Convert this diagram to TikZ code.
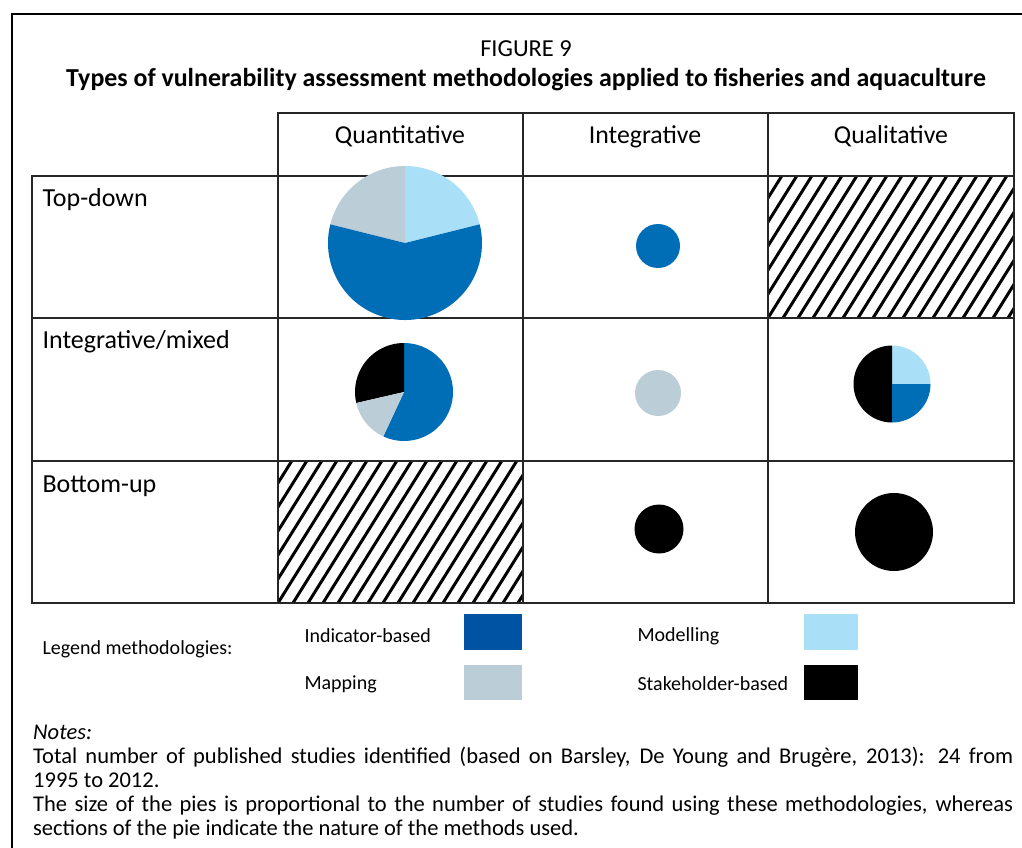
\documentclass[tikz,border=0pt]{standalone}
\usepackage{fontspec}
\setmainfont{Carlito}
\usepackage{xcolor}
\usetikzlibrary{calc}
\definecolor{indicatorblue}{HTML}{006DB7}
\definecolor{indicatorkey}{HTML}{0053A3}
\definecolor{modelblue}{HTML}{A9DFF7}
\definecolor{mapgrey}{HTML}{BBCDD7}
\tikzset{
  grid/.style={line width=1.3pt,black!85},
  hatchline/.style={line width=3pt},
  indicator/.style={fill=indicatorblue},
  model/.style={fill=modelblue},
  mapping/.style={fill=mapgrey},
  stakeholder/.style={fill=black},
  headlabel/.style={anchor=base,font=\fontsize{25.8}{30}\selectfont},
  rowlabel/.style={anchor=west,font=\fontsize{26}{30}\selectfont},
  keylabel/.style={anchor=west,font=\fontsize{20}{24}\selectfont},
}

\begin{document}
\begin{tikzpicture}[x=1pt,y=1pt]
  \useasboundingbox (0,0) rectangle (1022,-848);
  \fill[white] (0,0) rectangle (1022,-848);
  \draw[line width=1.4pt] (12,-848) -- (12,-14) -- (1022,-14);

  % caption
  \node (fig) at (526,-49) {\fontsize{24.4}{28}\selectfont FIGURE 9};
  \node (title) at (526,-80) {\fontsize{25.9}{30}\selectfont\bfseries Types of vulnerability assessment methodologies applied to fisheries and aquaculture};

  % hatched cells
  \coordinate (qlA) at (768,-318);
  \coordinate (qlB) at (1014,-176);
  \coordinate (qnA) at (278,-603);
  \coordinate (qnB) at (523,-461);
  \begin{scope}
    \clip (qlA) rectangle (qlB);
    \foreach \i in {-7,...,18}
      \draw[hatchline] ($(qlA)+(\i*15,0)$) -- ++(58:170);
  \end{scope}
  \begin{scope}
    \clip (qnA) rectangle (qnB);
    \foreach \i in {-7,...,18}
      \draw[hatchline] ($(qnA)+(\i*15,0)$) -- ++(58:170);
  \end{scope}

  % table
  \draw[grid] (278,-113) rectangle (1014,-176);
  \draw[grid] (32,-176) rectangle (1014,-603);
  \foreach \y in {-318,-461}
    \draw[grid] (32,\y) -- (1014,\y);
  \foreach \x in {278,523,768}
    \draw[grid] (\x,-113) -- (\x,-603);

  % headers
  \node[headlabel] (quant) at (400,-143) {Quantitative};
  \node[headlabel] (integ) at (645,-143) {Integrative};
  \node[headlabel] (qual) at (891,-143) {Qualitative};
  \node[rowlabel] (topdown) at (39,-200) {Top-down};
  \node[rowlabel] (mixed) at (39,-342) {Integrative/mixed};
  \node[rowlabel] (bottomup) at (39,-486) {Bottom-up};

  % quantitative top-down pie
  \coordinate (p1) at (405,-243);
  \fill[model] (p1) -- ++(14:77) arc[start angle=14,end angle=90,radius=77] -- cycle;
  \fill[mapping] (p1) -- ++(90:77) arc[start angle=90,end angle=166,radius=77] -- cycle;
  \fill[indicator] (p1) -- ++(166:77) arc[start angle=166,end angle=374,radius=77] -- cycle;

  % integrative top-down
  \coordinate (p2) at (658,-246);
  \fill[indicator] (p2) circle[radius=22];

  % quantitative mixed pie
  \coordinate (p3) at (404,-392);
  \fill[indicator] (p3) -- ++(-115:49) arc[start angle=-115,end angle=90,radius=49] -- cycle;
  \fill[stakeholder] (p3) -- ++(90:49) arc[start angle=90,end angle=193,radius=49] -- cycle;
  \fill[mapping] (p3) -- ++(193:49) arc[start angle=193,end angle=245,radius=49] -- cycle;

  % integrative mixed
  \coordinate (p4) at (658,-393);
  \fill[mapping] (p4) circle[radius=23];

  % qualitative mixed pie
  \coordinate (p5) at (892,-384);
  \fill[model] (p5) -- ++(0:38.5) arc[start angle=0,end angle=90,radius=38.5] -- cycle;
  \fill[stakeholder] (p5) -- ++(90:38.5) arc[start angle=90,end angle=270,radius=38.5] -- cycle;
  \fill[indicator] (p5) -- ++(270:38.5) arc[start angle=270,end angle=360,radius=38.5] -- cycle;

  % bottom-up
  \coordinate (p6) at (659,-529);
  \fill[stakeholder] (p6) circle[radius=24.5];
  \coordinate (p7) at (894,-532);
  \fill[stakeholder] (p7) circle[radius=39];

  % legend
  \node[keylabel] (legend) at (39,-649) {Legend methodologies:};
  \node[keylabel] (kind) at (301,-636) {Indicator-based};
  \node[keylabel] (kmap) at (301,-684) {Mapping};
  \node[keylabel] (kmod) at (634,-636) {Modelling};
  \node[keylabel] (kstake) at (634,-684) {Stakeholder-based};
  \fill[indicatorkey] (464,-614) rectangle (522,-650);
  \fill[mapgrey] (464,-665) rectangle (522,-700);
  \fill[modelblue] (804,-614) rectangle (858,-650);
  \fill[black] (804,-665) rectangle (858,-700);

  % notes
  \node[anchor=north west,inner sep=0pt,text width=980pt,align=justify,
        font=\fontsize{22.5}{24}\selectfont] (notes) at (33,-725)
    {\textit{Notes:}\\
     Total number of published studies identified (based on Barsley, De Young and Brugère, 2013): 24 from\linebreak 1995 to 2012.\par
     The size of the pies is proportional to the number of studies found using these methodologies, whereas\linebreak sections of the pie indicate the nature of the methods used.};
\end{tikzpicture}
\end{document}
